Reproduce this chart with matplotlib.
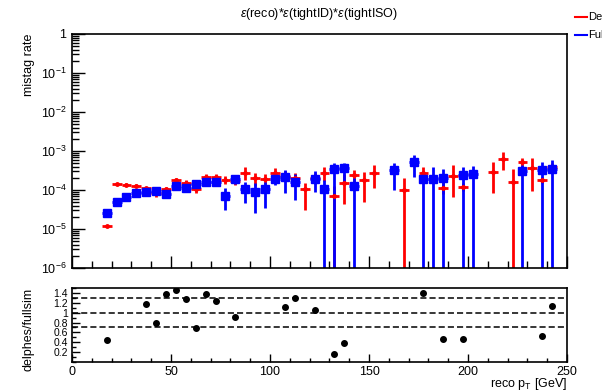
import numpy as np
import matplotlib
matplotlib.use("Agg")
import matplotlib.pyplot as plt
from matplotlib.ticker import MultipleLocator, FixedLocator, FuncFormatter, LogLocator, NullFormatter
from matplotlib.lines import Line2D

plt.rcParams['font.family'] = ['Liberation Sans', 'DejaVu Sans']
plt.rcParams['mathtext.fontset'] = 'custom'
plt.rcParams['mathtext.rm'] = 'Liberation Sans'
plt.rcParams['mathtext.it'] = 'Liberation Sans:italic'

# Delphes (red): bin centre, value, lower end, upper end of error bar
delphes_x = [17.5, 22.5, 27.5, 32.5, 37.5, 42.5, 47.5, 52.5, 57.5, 62.5,
             67.5, 72.5, 77.5, 82.5, 87.5, 92.5, 97.5, 102.5, 107.5, 112.5,
             117.5, 122.5, 127.5, 132.5, 137.5, 142.5, 147.5, 152.5, 167.5, 177.5,
             187.5, 192.5, 197.5, 212.5, 217.5, 222.5, 227.5, 232.5, 237.5, 242.5]
delphes_val = [1.2e-5, 1.45e-4, 1.38e-4, 1.29e-4, 1.1e-4, 8.2e-5, 1.06e-4, 1.8e-4, 1.55e-4, 1.04e-4,
               2.2e-4, 2.1e-4, 1.8e-4, 1.73e-4, 2.8e-4, 2.0e-4, 1.9e-4, 2.8e-4, 2.35e-4, 2.05e-4,
               1.06e-4, 2.0e-4, 2.7e-4, 7.0e-5, 1.55e-4, 2.47e-4, 1.8e-4, 2.7e-4, 1.0e-4, 2.7e-4,
               1.1e-4, 2.3e-4, 1.2e-4, 2.9e-4, 6.3e-4, 1.6e-4, 5.1e-4, 3.6e-4, 1.8e-4, 4.0e-4]
delphes_lo = [1.1e-5, 1.35e-4, 1.28e-4, 1.18e-4, 0.98e-4, 6.8e-5, 0.92e-4, 1.55e-4, 1.33e-4, 0.85e-4,
              1.85e-4, 1.7e-4, 1.4e-4, 1.35e-4, 1.8e-4, 1.25e-4, 1.4e-4, 2.0e-4, 1.7e-4, 1.5e-4,
              3.1e-5, 1.4e-4, 1.7e-4, 0.0, 4.5e-5, 1.6e-4, 5.0e-5, 1.1e-4, 0.0, 2.0e-4,
              0.8e-4, 6.7e-5, 0.95e-4, 8.2e-5, 3.3e-4, 0.0, 3.5e-4, 9.7e-5, 1.55e-4, 3.2e-4]
delphes_hi = [1.3e-5, 1.55e-4, 1.48e-4, 1.4e-4, 1.22e-4, 9.8e-5, 1.2e-4, 2.05e-4, 1.8e-4, 1.25e-4,
              2.6e-4, 2.5e-4, 2.3e-4, 2.15e-4, 4.0e-4, 2.8e-4, 2.5e-4, 3.6e-4, 3.1e-4, 2.7e-4,
              1.55e-4, 2.7e-4, 3.8e-4, 1.3e-4, 2.6e-4, 3.3e-4, 2.9e-4, 4.4e-4, 2.0e-4, 4.0e-4,
              1.6e-4, 4.4e-4, 1.5e-4, 5.3e-4, 9.6e-4, 3.4e-4, 6.6e-4, 6.5e-4, 2.1e-4, 5.0e-4]

# Fullsim (blue)
fullsim_x = [17.5, 22.5, 27.5, 32.5, 37.5, 42.5, 47.5, 52.5, 57.5, 62.5,
             67.5, 72.5, 77.5, 82.5, 87.5, 92.5, 97.5, 102.5, 107.5, 112.5,
             122.5, 127.5, 132.5, 137.5, 142.5, 162.5, 172.5, 177.5, 182.5, 187.5,
             197.5, 202.5, 227.5, 237.5, 242.5]
fullsim_val = [2.5e-5, 5.0e-5, 6.5e-5, 8.2e-5, 9.1e-5, 9.4e-5, 7.9e-5, 1.26e-4, 1.15e-4, 1.4e-4,
               1.58e-4, 1.63e-4, 7.1e-5, 1.88e-4, 1.06e-4, 8.7e-5, 1.04e-4, 1.88e-4, 2.1e-4, 1.58e-4,
               1.9e-4, 1.04e-4, 3.4e-4, 3.65e-4, 1.26e-4, 3.3e-4, 5.3e-4, 1.88e-4, 1.9e-4, 2.0e-4,
               2.4e-4, 2.5e-4, 3.1e-4, 3.2e-4, 3.4e-4]
fullsim_lo = [2.2e-5, 4.5e-5, 6.0e-5, 7.5e-5, 8.2e-5, 8.3e-5, 6.9e-5, 1.1e-4, 0.95e-4, 1.15e-4,
              1.25e-4, 1.3e-4, 3.1e-5, 1.4e-4, 4.6e-5, 2.5e-5, 3.5e-5, 1.35e-4, 8.2e-5, 5.5e-5,
              9.0e-5, 0.0, 0.0, 1.5e-4, 0.0, 1.0e-4, 2.2e-4, 0.0, 0.0, 0.0,
              0.0, 0.0, 0.0, 0.0, 0.0]
fullsim_hi = [2.8e-5, 5.5e-5, 7.0e-5, 9.0e-5, 1.0e-4, 1.05e-4, 9.0e-5, 1.45e-4, 1.35e-4, 1.65e-4,
              1.9e-4, 2.0e-4, 1.1e-4, 2.4e-4, 1.6e-4, 1.5e-4, 1.6e-4, 2.5e-4, 3.3e-4, 2.6e-4,
              3.0e-4, 1.8e-4, 4.8e-4, 4.8e-4, 2.0e-4, 4.8e-4, 8.0e-4, 2.95e-4, 4.0e-4, 3.5e-4,
              4.0e-4, 4.2e-4, 4.5e-4, 5.3e-4, 5.8e-4]

# ratio delphes / fullsim
ratio_x = [17.5, 37.5, 42.5, 47.5, 52.5, 57.5, 62.5, 67.5, 72.5, 82.5,
           107.5, 112.5, 122.5, 132.5, 137.5, 177.5, 187.5, 197.5, 237.5, 242.5]
ratio_val = [0.45, 1.18, 0.80, 1.38, 1.46, 1.27, 0.68, 1.37, 1.24, 0.92,
             1.12, 1.30, 1.05, 0.17, 0.38, 1.40, 0.47, 0.46, 0.52, 1.14]

bin_half = 2.5

W, H = 602, 391
fig = plt.figure(figsize=(W / 100, H / 100), dpi=100)

def fig_axes(x0, y0, x1, y1):
    # pixel box -> figure fraction
    return fig.add_axes([x0 / W, 1 - y1 / H, (x1 - x0) / W, (y1 - y0) / H])

ax = fig_axes(72, 34, 567, 268)
axr = fig_axes(72, 288, 567, 362)

def draw(ax_, x, v, lo, hi, color, marker, ms):
    x = np.array(x)
    v = np.array(v)
    lo = np.maximum(np.array(lo), 1e-9)
    hi = np.array(hi)
    ax_.errorbar(x, v, xerr=bin_half, yerr=[v - lo, hi - v], fmt=marker, color=color,
                 ms=ms, mec=color, mfc=color, elinewidth=2.0, capsize=0, lw=0)

draw(ax, delphes_x, delphes_val, delphes_lo, delphes_hi, 'red', 'o', 2.5)
draw(ax, fullsim_x, fullsim_val, fullsim_lo, fullsim_hi, 'blue', 's', 5.5)

ax.set_yscale('log')
ax.set_ylim(1e-6, 1)
ax.set_xlim(0, 250)

def log_fmt(y, pos):
    e = int(round(np.log10(y)))
    if e == 0:
        return '1'
    return r'$10^{%d}$' % e

ax.yaxis.set_major_locator(FixedLocator([1e-6, 1e-5, 1e-4, 1e-3, 1e-2, 1e-1, 1]))
ax.yaxis.set_major_formatter(FuncFormatter(log_fmt))
ax.yaxis.set_minor_locator(LogLocator(base=10, subs=np.arange(2, 10), numticks=20))
ax.yaxis.set_minor_formatter(NullFormatter())

for a in (ax, axr):
    a.xaxis.set_major_locator(MultipleLocator(50))
    a.xaxis.set_minor_locator(MultipleLocator(10))
    a.tick_params(which='both', direction='in', top=False, right=False, labelsize=9, width=1.0)
    for s in a.spines.values():
        s.set_linewidth(1.2)

ax.tick_params(which='major', length=9)
ax.tick_params(which='minor', length=5)
ax.tick_params(axis='x', labelbottom=False)
ax.tick_params(axis='y', pad=4)

ax.set_title(r'$\epsilon$(reco)*$\epsilon$(tightID)*$\epsilon$(tightISO)', fontsize=9, pad=12)
ax.set_ylabel('mistag rate', fontsize=9, loc='top')
ax.yaxis.set_label_coords(-0.075, 1.0)

# ratio panel
axr.plot(ratio_x, ratio_val, 'o', color='black', ms=4)
for yl in (0.7, 1.0, 1.3):
    axr.axhline(yl, color='black', ls=(0, (4, 2)), lw=1.1)
axr.set_ylim(0, 1.5)
axr.set_xlim(0, 250)
axr.yaxis.set_major_locator(FixedLocator([0.2, 0.4, 0.6, 0.8, 1.0, 1.2, 1.4]))
axr.yaxis.set_major_formatter(FuncFormatter(lambda y, p: ('%g' % y)))
axr.yaxis.set_minor_locator(MultipleLocator(0.1))
axr.tick_params(which='major', length=6)
axr.tick_params(which='minor', length=3)
axr.tick_params(axis='x', pad=3)
axr.tick_params(axis='y', pad=3, labelsize=7.5)
axr.set_ylabel('delphes/fullsim', fontsize=9, loc='top')
axr.yaxis.set_label_coords(-0.075, 1.0)
axr.set_xlabel(r'reco p$_{\mathrm{T}}$ [GeV]', fontsize=9, loc='right')
axr.xaxis.set_label_coords(1.0, -0.19)

# legend sitting outside at the right edge
for yy, col, lab in ((17, 'red', 'Delphes'), (35, 'blue', 'Fullsim')):
    fig.add_artist(Line2D([575 / W, 587 / W], [1 - yy / H, 1 - yy / H], color=col, lw=1.5))
    fig.text(588 / W, 1 - yy / H, lab, fontsize=8, va='center', ha='left')

fig.savefig('out.png', dpi=100)
